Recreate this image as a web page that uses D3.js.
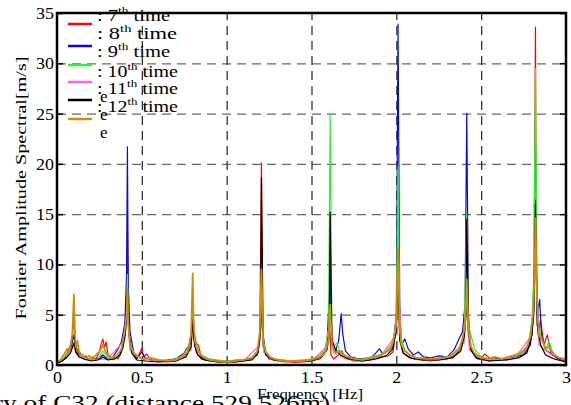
<html>
<head>
<script src="https://d3js.org/d3.v7.min.js"></script>
<style>
  body { margin: 0; background: #fff; }
  svg, svg text, svg tspan { font-family: "Liberation Serif", "DejaVu Serif", "Times New Roman", serif !important; }
  .gridlines line { stroke-dasharray: 9,6; stroke-width: 1.3; }
  .gridlines .domain { stroke: none; }
  .gridx line { stroke: #333; }
  .gridy line { stroke: #666; }
  .axis .domain { stroke: none; }
  .axis line { stroke: #000; stroke-width: 1.5; }
  .axis text { font-size: 16px; fill: #000; }
</style>
</head>
<body>
<script>
// series: [frequency Hz, amplitude m/s]
const s7 = [[0,0.2],[0.02,0.3],[0.04,0.6],[0.06,1.2],[0.08,2.0],[0.09,2.8],[0.1,4.8],[0.105,2.6],[0.115,1.7],[0.13,1.1],[0.15,0.7],[0.17,0.9],[0.19,0.5],[0.21,0.8],[0.23,0.6],[0.25,1.3],[0.26,2.1],[0.27,2.6],[0.28,1.7],[0.29,2.3],[0.3,1.1],[0.32,0.6],[0.34,0.8],[0.36,0.6],[0.38,1.3],[0.4,3.0],[0.41,6.5],[0.415,13.2],[0.42,5.0],[0.43,2.2],[0.45,1.0],[0.47,0.6],[0.49,1.3],[0.5,1.7],[0.51,0.8],[0.53,1.1],[0.55,0.5],[0.6,0.4],[0.65,0.3],[0.7,0.4],[0.74,0.7],[0.77,1.2],[0.79,2.6],[0.8,6.0],[0.81,3.0],[0.82,2.2],[0.835,1.9],[0.85,0.8],[0.9,0.4],[0.95,0.3],[1.0,0.3],[1.05,0.3],[1.1,0.4],[1.15,0.6],[1.18,1.1],[1.195,3.0],[1.205,20.1],[1.21,4.0],[1.22,1.5],[1.25,0.6],[1.3,0.4],[1.35,0.3],[1.4,0.3],[1.45,0.3],[1.5,0.4],[1.55,0.6],[1.58,1.2],[1.6,2.2],[1.61,3.2],[1.615,1.0],[1.63,0.6],[1.66,1.0],[1.68,1.4],[1.7,0.7],[1.75,0.4],[1.8,0.4],[1.85,0.5],[1.9,0.8],[1.95,0.9],[1.98,1.3],[2.0,4.0],[2.01,9.0],[2.02,2.4],[2.04,1.2],[2.07,0.9],[2.1,0.6],[2.15,0.5],[2.2,0.4],[2.25,0.5],[2.3,0.6],[2.35,1.0],[2.38,1.7],[2.4,3.4],[2.415,7.0],[2.425,2.8],[2.44,1.5],[2.47,0.8],[2.5,0.6],[2.52,1.1],[2.55,0.7],[2.6,0.5],[2.65,0.6],[2.7,0.9],[2.75,1.2],[2.79,2.5],[2.81,6.0],[2.82,33.6],[2.825,8.0],[2.835,3.0],[2.85,4.5],[2.87,2.0],[2.89,3.0],[2.91,1.2],[2.95,0.6],[3.0,0.4]];
const s8 = [[0,0.2],[0.03,0.4],[0.06,0.9],[0.08,1.5],[0.1,3.0],[0.11,1.5],[0.13,0.9],[0.16,0.6],[0.2,0.5],[0.24,0.6],[0.27,1.0],[0.3,0.6],[0.33,0.8],[0.36,1.6],[0.38,2.3],[0.4,4.2],[0.41,9.0],[0.415,21.7],[0.42,8.0],[0.43,3.4],[0.45,1.4],[0.47,0.6],[0.5,1.3],[0.52,0.7],[0.56,0.5],[0.6,0.4],[0.65,0.5],[0.7,0.6],[0.75,1.2],[0.78,2.0],[0.8,4.0],[0.81,2.4],[0.82,1.3],[0.85,0.6],[0.9,0.4],[1.0,0.4],[1.1,0.5],[1.15,0.7],[1.18,1.0],[1.195,2.4],[1.205,6.0],[1.215,1.8],[1.25,0.7],[1.3,0.5],[1.4,0.4],[1.5,0.5],[1.55,0.8],[1.59,1.5],[1.61,9.0],[1.62,2.4],[1.64,1.3],[1.66,2.4],[1.675,5.1],[1.685,3.0],[1.7,1.4],[1.73,0.8],[1.78,0.6],[1.85,0.7],[1.88,1.2],[1.9,1.6],[1.92,1.1],[1.95,1.4],[1.98,1.8],[2.0,5.0],[2.01,33.9],[2.02,6.0],[2.03,2.0],[2.05,2.6],[2.07,1.6],[2.1,1.0],[2.13,1.3],[2.16,0.8],[2.2,0.7],[2.25,0.9],[2.3,0.8],[2.34,1.5],[2.37,2.6],[2.39,3.3],[2.405,6.0],[2.415,25.0],[2.425,5.0],[2.435,2.2],[2.45,1.2],[2.48,0.6],[2.55,0.4],[2.6,0.7],[2.65,0.5],[2.7,0.8],[2.75,1.0],[2.79,2.0],[2.81,5.0],[2.82,16.4],[2.83,5.0],[2.845,6.5],[2.855,3.0],[2.88,1.5],[2.92,1.0],[2.96,0.6],[3.0,0.5]];
const s9 = [[0,0.3],[0.03,0.5],[0.06,1.1],[0.08,1.4],[0.1,2.2],[0.11,1.2],[0.14,0.8],[0.17,0.5],[0.2,0.7],[0.24,0.5],[0.27,1.4],[0.3,0.8],[0.33,0.5],[0.36,0.9],[0.38,1.6],[0.4,3.0],[0.41,5.0],[0.415,9.0],[0.42,4.2],[0.43,2.1],[0.45,1.3],[0.48,0.8],[0.52,0.5],[0.56,0.7],[0.6,0.5],[0.65,0.4],[0.7,0.6],[0.74,0.9],[0.77,1.6],[0.79,2.6],[0.8,5.0],[0.81,2.8],[0.825,1.6],[0.85,1.0],[0.9,0.6],[0.95,0.5],[1.0,0.4],[1.05,0.5],[1.1,0.5],[1.15,0.8],[1.18,1.4],[1.195,3.0],[1.205,8.0],[1.215,2.0],[1.24,1.0],[1.28,0.6],[1.35,0.4],[1.45,0.5],[1.5,0.6],[1.55,1.0],[1.58,1.6],[1.6,3.6],[1.61,25.0],[1.62,3.0],[1.63,1.8],[1.65,2.2],[1.67,1.2],[1.7,0.8],[1.75,0.5],[1.8,0.6],[1.85,0.8],[1.9,1.0],[1.94,1.4],[1.97,2.0],[1.99,3.2],[2.0,5.0],[2.01,19.7],[2.02,4.0],[2.03,2.6],[2.05,1.5],[2.08,1.0],[2.12,0.7],[2.2,0.6],[2.25,0.7],[2.3,0.8],[2.35,1.2],[2.38,1.8],[2.4,3.0],[2.415,15.0],[2.425,4.0],[2.44,3.0],[2.46,1.6],[2.5,0.8],[2.55,0.6],[2.6,0.5],[2.65,0.7],[2.7,0.9],[2.75,1.2],[2.78,2.2],[2.8,4.5],[2.81,9.0],[2.82,29.5],[2.83,7.0],[2.84,3.5],[2.86,2.5],[2.88,1.6],[2.9,2.4],[2.92,1.3],[2.95,0.8],[3.0,0.6]];
const s10 = [[0,0.2],[0.05,0.6],[0.1,2.0],[0.12,1.0],[0.2,0.5],[0.3,0.6],[0.4,2.5],[0.415,6.0],[0.43,1.5],[0.5,0.6],[0.6,0.4],[0.7,0.5],[0.79,1.5],[0.8,4.0],[0.82,1.2],[0.9,0.4],[1.0,0.3],[1.1,0.4],[1.195,2.0],[1.205,8.0],[1.22,1.2],[1.3,0.4],[1.4,0.3],[1.5,0.4],[1.6,2.0],[1.61,6.0],[1.63,1.2],[1.7,0.6],[1.8,0.5],[1.9,0.7],[2.0,3.0],[2.01,10.0],[2.03,1.8],[2.1,0.6],[2.2,0.5],[2.3,0.6],[2.4,2.2],[2.415,6.0],[2.43,1.5],[2.5,0.5],[2.6,0.5],[2.7,0.7],[2.8,3.0],[2.82,12.0],[2.84,2.0],[2.9,1.2],[3.0,0.4]];
const s11 = [[0,0.2],[0.03,0.4],[0.06,0.8],[0.08,1.2],[0.1,2.2],[0.11,1.3],[0.13,0.8],[0.16,0.6],[0.2,0.4],[0.24,0.5],[0.27,0.8],[0.3,0.5],[0.34,0.6],[0.37,1.0],[0.39,1.8],[0.405,3.5],[0.415,7.2],[0.425,3.0],[0.44,1.2],[0.47,0.5],[0.52,0.4],[0.6,0.3],[0.7,0.4],[0.76,0.8],[0.79,1.8],[0.8,4.5],[0.81,2.0],[0.83,1.0],[0.87,0.5],[0.95,0.3],[1.05,0.3],[1.15,0.5],[1.185,1.2],[1.2,3.5],[1.205,18.6],[1.215,3.0],[1.23,1.0],[1.28,0.5],[1.4,0.3],[1.5,0.4],[1.56,0.8],[1.59,1.5],[1.605,3.5],[1.61,15.2],[1.62,2.5],[1.64,1.6],[1.67,1.0],[1.72,0.6],[1.8,0.4],[1.88,0.6],[1.94,0.9],[1.98,1.6],[2.0,3.5],[2.01,10.0],[2.02,2.6],[2.04,1.2],[2.08,0.7],[2.15,0.5],[2.25,0.5],[2.33,0.7],[2.38,1.4],[2.4,2.8],[2.41,5.0],[2.415,14.5],[2.425,3.5],[2.44,1.5],[2.47,0.7],[2.55,0.4],[2.65,0.5],[2.72,0.7],[2.77,1.2],[2.8,3.0],[2.81,5.5],[2.82,16.0],[2.83,4.0],[2.85,2.0],[2.88,1.0],[2.93,0.6],[3.0,0.3]];
const s12 = [[0,0.3],[0.02,0.5],[0.04,1.0],[0.06,1.6],[0.07,1.2],[0.08,2.0],[0.09,3.0],[0.1,7.0],[0.105,3.5],[0.11,1.8],[0.12,2.4],[0.13,1.3],[0.15,1.0],[0.17,0.7],[0.19,0.9],[0.21,0.6],[0.23,1.0],[0.25,1.3],[0.27,2.0],[0.285,1.4],[0.3,1.0],[0.32,0.7],[0.35,0.9],[0.38,1.6],[0.4,3.5],[0.41,5.0],[0.415,7.5],[0.42,4.0],[0.43,2.0],[0.45,1.2],[0.48,0.8],[0.51,0.6],[0.55,0.7],[0.6,0.5],[0.65,0.4],[0.7,0.5],[0.74,0.8],[0.77,1.3],[0.79,3.0],[0.8,9.1],[0.805,4.0],[0.815,2.2],[0.83,1.4],[0.86,0.8],[0.9,0.5],[0.95,0.4],[1.0,0.3],[1.05,0.4],[1.1,0.5],[1.15,0.7],[1.18,1.3],[1.195,3.2],[1.205,9.5],[1.215,2.5],[1.23,1.3],[1.26,0.7],[1.3,0.5],[1.35,0.4],[1.4,0.4],[1.45,0.4],[1.5,0.5],[1.55,0.8],[1.58,1.2],[1.6,2.5],[1.61,6.0],[1.62,2.0],[1.64,1.2],[1.67,1.4],[1.7,0.9],[1.75,0.6],[1.8,0.5],[1.85,0.7],[1.9,0.9],[1.93,1.2],[1.96,1.5],[1.98,2.2],[2.0,4.0],[2.01,11.7],[2.02,3.5],[2.03,2.0],[2.05,1.4],[2.08,1.0],[2.12,0.7],[2.18,0.6],[2.24,0.6],[2.3,0.8],[2.34,1.1],[2.37,1.6],[2.39,2.6],[2.405,4.0],[2.415,8.5],[2.425,3.5],[2.44,1.8],[2.46,1.2],[2.5,0.7],[2.54,0.6],[2.58,0.8],[2.62,0.6],[2.66,0.8],[2.7,1.0],[2.74,1.3],[2.77,1.8],[2.79,2.8],[2.805,5.0],[2.815,9.0],[2.82,14.6],[2.83,6.0],[2.84,3.0],[2.86,2.4],[2.88,1.6],[2.9,1.8],[2.93,1.0],[2.96,0.7],[3.0,0.5]];

const series = [s7, s8, s9, s10, s11, s12];
const runs = ['7', '8', '9', '10', '11', '12'];
const colors = ['#ff0000', '#0a0ad8', '#33ee33', '#ff66cc', '#000000', '#c89010'];
const xTicks = [0, 0.5, 1, 1.5, 2, 2.5, 3];
const yTicks = [0, 5, 10, 15, 20, 25, 30, 35];

const serif = '"Liberation Serif", "DejaVu Serif", "Times New Roman", serif';

let svg = d3.select('body').append('svg')
  .attr('width', 571)
  .attr('height', 405)
  .style('font-family', serif);

const margins = {top: 13, right: 5, bottom: 40, left: 57};
const chartWidth = 571 - margins.left - margins.right;
const chartHeight = 405 - margins.top - margins.bottom;

let xScale = d3.scaleLinear().domain([0, 3]).range([0, chartWidth]);
let yScale = d3.scaleLinear().domain([0, 35]).range([chartHeight, 0]);

let chart = svg.append('g')
  .attr('transform', `translate(${margins.left},${margins.top})`);

chart.append('clipPath').attr('id', 'clip')
  .append('rect').attr('width', chartWidth).attr('height', chartHeight);

// grid
chart.append('g')
  .attr('class', 'gridlines gridy')
  .call(d3.axisLeft(yScale).tickValues(yTicks.slice(1, -1)).tickFormat('').tickSize(-chartWidth));
chart.append('g')
  .attr('class', 'gridlines gridx')
  .attr('transform', `translate(0,${chartHeight})`)
  .call(d3.axisBottom(xScale).tickValues(xTicks.slice(1, -1)).tickFormat('').tickSize(-chartHeight));

// spectra
let line = d3.line().x(d => xScale(d[0])).y(d => yScale(d[1]));
let lines = chart.append('g').attr('clip-path', 'url(#clip)');
series.forEach((s, i) => {
  lines.append('path')
    .datum(s)
    .attr('d', line)
    .attr('fill', 'none')
    .attr('stroke', colors[i])
    .attr('stroke-width', i == 5 ? 1.8 : 1.2)
    .attr('stroke-linejoin', 'round');
});

// axes
const labelLen = t => { let s = String(t); return s.replace('.', '').length * 9 + (s.includes('.') ? 4.5 : 0); };

let yAx = chart.append('g')
  .attr('class', 'axis')
  .call(d3.axisLeft(yScale).tickValues(yTicks).tickSizeInner(-6).tickSizeOuter(0).tickPadding(3));
yAx.attr('font-family', null);
yAx.selectAll('text')
  .style('font-family', serif)
  .attr('textLength', d => labelLen(d))
  .attr('lengthAdjust', 'spacingAndGlyphs')
  .attr('dy', '0.34em');

chart.append('g')
  .attr('class', 'axis')
  .attr('transform', `translate(${chartWidth},0)`)
  .call(d3.axisRight(yScale).tickValues(yTicks).tickSizeInner(-6).tickSizeOuter(0).tickFormat(''));

let xAx = chart.append('g')
  .attr('class', 'axis')
  .attr('transform', `translate(0,${chartHeight})`)
  .call(d3.axisBottom(xScale).tickValues(xTicks).tickSizeInner(0).tickSizeOuter(0).tickPadding(7).tickFormat(d => String(d)));
xAx.attr('font-family', null);
xAx.selectAll('text')
  .style('font-family', serif)
  .attr('textLength', d => labelLen(d))
  .attr('lengthAdjust', 'spacingAndGlyphs');

chart.append('rect')
  .attr('width', chartWidth)
  .attr('height', chartHeight)
  .attr('fill', 'none')
  .attr('stroke', '#000')
  .attr('stroke-width', 2.5);

// legend
const legLineY = [24, 46, 65, 82, 100, 119];
const legTextY = [20.5, 39, 57, 77, 94, 112];
const legLen = [73, 80, 73, 81, 81, 81];
runs.forEach((r, i) => {
  svg.append('line')
    .attr('x1', 68).attr('x2', 92)
    .attr('y1', legLineY[i]).attr('y2', legLineY[i])
    .attr('stroke', colors[i])
    .attr('stroke-width', 2.5);
  let t = svg.append('text')
    .attr('x', 97).attr('y', legTextY[i])
    .style('font-family', serif)
    .attr('font-size', 17)
    .attr('textLength', legLen[i])
    .attr('lengthAdjust', 'spacingAndGlyphs');
  t.append('tspan').text(': ' + r);
  t.append('tspan').attr('dy', -7).attr('font-size', 11).text('th');
  t.append('tspan').attr('dy', 7).text(' time');
});
[102, 120, 138].forEach(y => {
  svg.append('text').attr('x', 100).attr('y', y).style('font-family', serif).attr('font-size', 17).text('e');
});

// axis titles
svg.append('text')
  .attr('transform', 'translate(26,188) rotate(-90)')
  .attr('text-anchor', 'middle')
  .style('font-family', serif)
  .attr('font-size', 15)
  .attr('textLength', 263)
  .attr('lengthAdjust', 'spacingAndGlyphs')
  .text('Fourier Amplitude Spectral[m/s]');

svg.append('text')
  .attr('x', 257).attr('y', 399)
  .style('font-family', serif)
  .attr('font-size', 14)
  .attr('textLength', 106)
  .attr('lengthAdjust', 'spacingAndGlyphs')
  .text('Frequency [Hz]');

svg.append('text')
  .attr('x', -6).attr('y', 410)
  .style('font-family', serif)
  .attr('font-size', 22)
  .attr('textLength', 336)
  .attr('lengthAdjust', 'spacingAndGlyphs')
  .text('ry of C32 (distance 529.526m)');
</script>
</body>
</html>
